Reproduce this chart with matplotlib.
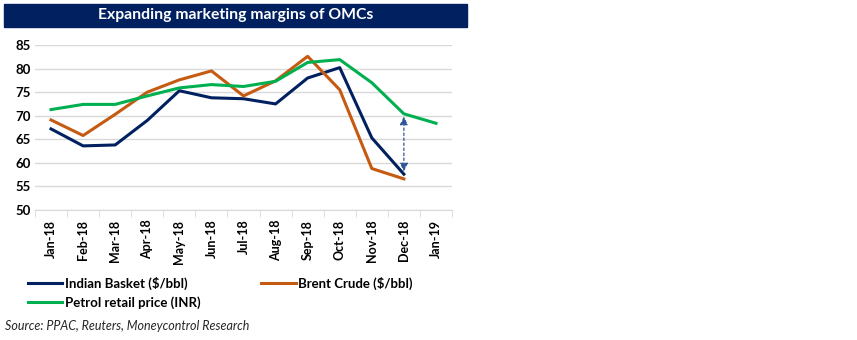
import matplotlib
matplotlib.use("Agg")
import matplotlib.pyplot as plt
from matplotlib.patches import Rectangle
import numpy as np

months = ["Jan-18", "Feb-18", "Mar-18", "Apr-18", "May-18", "Jun-18", "Jul-18",
          "Aug-18", "Sep-18", "Oct-18", "Nov-18", "Dec-18", "Jan-19"]
indian_basket = [67.2, 63.6, 63.8, 69.0, 75.3, 73.8, 73.6, 72.5, 78.0, 80.2, 65.3, 57.6]
brent_crude = [69.1, 65.8, 70.3, 75.0, 77.6, 79.5, 74.2, 77.4, 82.6, 75.5, 58.8, 56.6]
petrol_price = [71.3, 72.4, 72.4, 74.2, 75.9, 76.6, 76.2, 77.3, 81.3, 81.9, 77.0, 70.4, 68.4]

NAVY = "#002060"
ORANGE = "#C55A11"
GREEN = "#00B050"
plt.rcParams["font.family"] = ["Lato", "DejaVu Sans"]

fig = plt.figure(figsize=(8.57, 3.4), dpi=100)
W, H = 857, 340

# title banner
fig.patches.append(Rectangle((4 / W, 1 - 27 / H), 463 / W, 23 / H,
                             transform=fig.transFigure, color=NAVY, zorder=0))
fig.text(236 / W, 1 - 15.5 / H, "Expanding marketing margins of OMCs", color="white",
         fontsize=11.3, fontweight="bold", ha="center", va="center")

ax = fig.add_axes([35 / W, 1 - 210 / H, 417 / W, 165 / H])
x = np.arange(len(months))
l1, = ax.plot(x[:len(indian_basket)], indian_basket, color=NAVY, lw=2.2, label="Indian Basket ($/bbl)")
l2, = ax.plot(x[:len(brent_crude)], brent_crude, color=ORANGE, lw=2.2, label="Brent Crude ($/bbl)")
l3, = ax.plot(x, petrol_price, color=GREEN, lw=2.2, label="Petrol retail price (INR)")

# gap arrow at Dec-18
ax.annotate("", xy=(11, indian_basket[11]), xytext=(11, petrol_price[11]),
            arrowprops=dict(arrowstyle="<|-|>", color="#2F5597", lw=0.9,
                            linestyle=(0, (2, 2)), mutation_scale=12))

ax.set_xlim(-0.5, 12.5)
ax.set_ylim(50, 85)
ax.set_yticks(range(50, 90, 5))
ax.grid(axis="y", color="#D9D9D9", lw=1)
ax.set_axisbelow(True)
for s in ["top", "right", "left"]:
    ax.spines[s].set_visible(False)
ax.spines["bottom"].set_color("#D9D9D9")
ax.set_xticks(x)
ax.set_xticklabels(months, rotation=90, fontsize=9, fontweight="bold")
ax.set_xticks(np.arange(-0.5, 13, 1), minor=True)
ax.tick_params(axis="x", which="major", length=0, pad=7)
ax.tick_params(axis="x", which="minor", length=5, color="#D9D9D9")
ax.tick_params(axis="y", length=0, labelsize=9.5, pad=14)
for lab in ax.get_yticklabels():
    lab.set_fontweight("bold")
    lab.set_horizontalalignment("left")

# column-wise fill: Indian / Petrol in first column, Brent in second
fig.legend(handles=[l1, l3, l2], loc="upper left", bbox_to_anchor=(28 / W, 1 - 277 / H), ncol=2,
           frameon=False, prop={"weight": "bold", "size": 9.5},
           handlelength=2.6, handletextpad=0.2, columnspacing=4.6,
           labelspacing=0.45, borderaxespad=0, borderpad=0)

fig.text(5 / W, 1 - 326 / H, "Source: PPAC, Reuters, Moneycontrol Research",
         fontsize=9, style="italic", color="#262626", va="center")

fig.savefig("out.png", dpi=100)
